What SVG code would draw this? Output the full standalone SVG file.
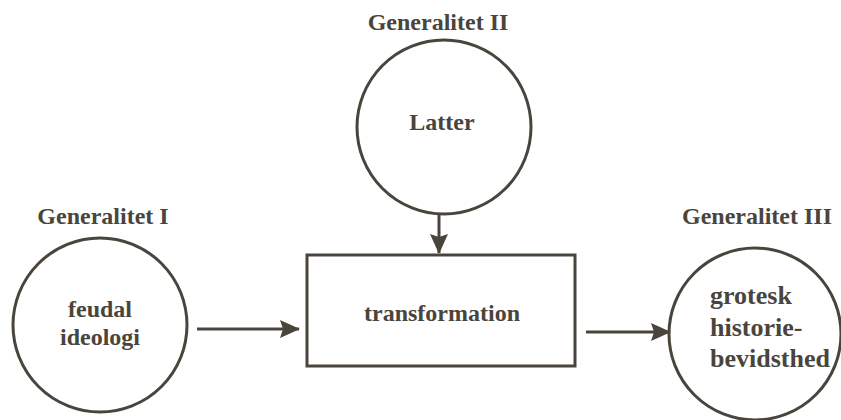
<svg xmlns="http://www.w3.org/2000/svg" width="841" height="420" viewBox="0 0 841 420">
<style>
.shape{fill:none;stroke:#4a453c;stroke-width:3}
.lbl{font-family:"Liberation Serif",serif;font-weight:bold;font-size:24px;fill:#4a453c}
.big{font-size:26px}
.c{text-anchor:middle}
.conn{stroke:#4a453c;stroke-width:3;fill:none}
</style>
<defs>
<marker id="ah" viewBox="0 0 20 18" refX="19" refY="9" markerWidth="20" markerHeight="18" markerUnits="userSpaceOnUse" orient="auto">
<path d="M0,0 L20,9 L0,18 L3,9 z" fill="#4a453c"/>
</marker>
</defs>
<rect width="841" height="420" fill="#fff"/>
<g id="gen1">
<text class="lbl c" x="103" y="224">Generalitet I</text>
<circle class="shape" cx="100" cy="325" r="87"/>
<text class="lbl c" x="100" y="317">feudal</text>
<text class="lbl c" x="100" y="345">ideologi</text>
</g>
<g id="gen2">
<text class="lbl c" x="438" y="30">Generalitet II</text>
<circle class="shape" cx="444" cy="127" r="87"/>
<text class="lbl c" x="442" y="130">Latter</text>
</g>
<g id="transformation">
<rect class="shape" x="307" y="255" width="268" height="111"/>
<text class="lbl c" x="442" y="321">transformation</text>
</g>
<g id="gen3">
<text class="lbl c" x="757" y="224">Generalitet III</text>
<circle class="shape" cx="755" cy="334" r="86"/>
<text class="lbl big" x="710" y="304">grotesk</text>
<text class="lbl big" x="710" y="336">historie-</text>
<text class="lbl big" x="710" y="367">bevidsthed</text>
</g>
<g id="connectors">
<line class="conn" x1="197" y1="329" x2="299" y2="329" marker-end="url(#ah)"/>
<line class="conn" x1="439" y1="214" x2="439" y2="253" marker-end="url(#ah)"/>
<line class="conn" x1="586" y1="332" x2="670" y2="332" marker-end="url(#ah)"/>
</g>
</svg>
